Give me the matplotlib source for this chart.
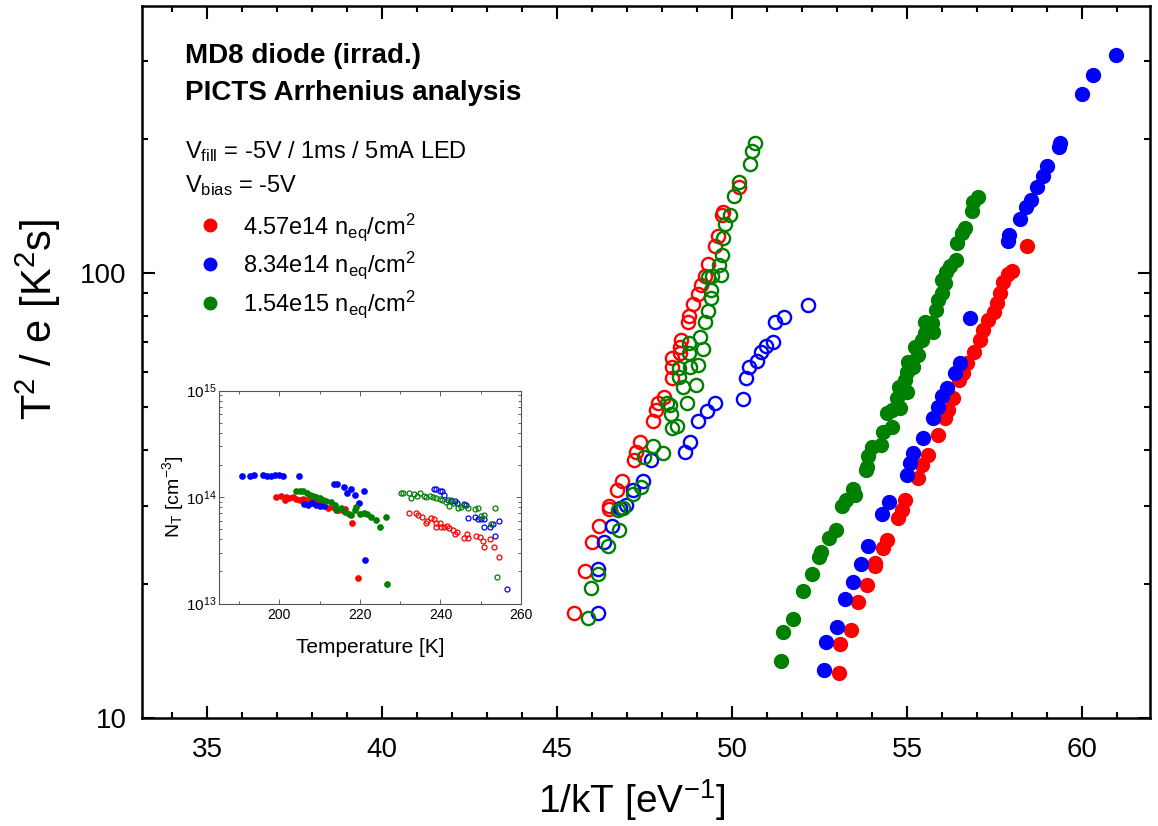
import matplotlib.pyplot as plt
from matplotlib.lines import Line2D
from matplotlib.ticker import FixedLocator, LogLocator, MultipleLocator, NullFormatter, FuncFormatter

plt.rcParams['font.family'] = ['Liberation Sans', 'DejaVu Sans']
plt.rcParams['mathtext.fontset'] = 'custom'
plt.rcParams['mathtext.rm'] = 'Liberation Sans'
plt.rcParams['mathtext.it'] = 'Liberation Sans:italic'
plt.rcParams['mathtext.bf'] = 'Liberation Sans:bold'
plt.rcParams['mathtext.default'] = 'regular'

# ---- main plot: Arrhenius data, 1/kT [1/eV] vs T^2/e [K^2 s]
# open symbols (high-T peak)
red_open_x = [45.47, 45.80, 45.99, 46.20, 46.47, 46.47, 46.71, 46.85, 47.20, 47.26, 47.37, 47.73, 47.82,
              47.89, 48.06, 48.28, 48.28, 48.28, 48.51, 48.51, 48.53, 48.75, 48.78, 48.87, 49.04, 49.11,
              49.23, 49.32, 49.51, 49.59, 49.71, 49.75, 50.21]
red_open_y = [17.2, 21.4, 24.8, 27.0, 29.9, 29.5, 32.5, 34.0, 37.9, 39.5, 41.6, 46.5, 49.2,
              51.0, 52.7, 58.0, 61.6, 64.5, 66.2, 68.3, 70.7, 77.5, 80.1, 85.1, 89.6, 94.0,
              98.6, 105, 115, 121, 135, 137, 156]
blue_open_x = [46.18, 46.16, 46.35, 46.56, 46.80, 46.97, 47.18, 47.45, 47.69, 48.66, 48.80, 49.04,
               49.28, 49.51, 50.32, 50.39, 50.49, 50.71, 50.82, 50.97, 51.18, 51.23, 51.49, 52.18]
blue_open_y = [17.2, 21.6, 24.9, 27.0, 29.6, 30.1, 32.5, 34.1, 38.0, 39.5, 41.6, 46.6,
               49.0, 51.1, 52.1, 58.0, 61.6, 63.5, 66.5, 68.5, 70.1, 77.5, 79.5, 84.7]
green_open_x = [45.89, 45.97, 46.18, 46.45, 46.77, 46.75, 46.89, 47.18, 47.40, 47.49, 47.75, 48.04,
                48.13, 48.23, 48.26, 48.28, 48.42, 48.47, 48.49, 48.59, 48.71, 48.78, 48.78, 48.80,
                48.97, 49.04, 49.07, 49.16, 49.23, 49.32, 49.39, 49.40, 49.32, 49.42, 49.69, 49.63,
                49.71, 49.75, 49.80, 49.94, 50.06, 50.20, 50.51, 50.58, 50.66]
green_open_y = [16.8, 19.6, 21.1, 24.3, 26.5, 29.3, 29.6, 31.8, 33.0, 38.5, 40.9, 39.3,
                51.1, 50.5, 48.2, 44.8, 45.3, 61.1, 58.5, 55.3, 51.1, 69.5, 66.0, 61.4,
                56.0, 62.1, 71.9, 67.4, 77.7, 82.1, 88.0, 91.6, 98.1, 98.5, 99.0, 104.2,
                109.8, 120, 129, 135, 149, 160, 176, 188, 196]

# filled symbols (low-T peak)
red_fill_x = [53.06, 53.09, 53.39, 53.61, 53.85, 54.09, 54.09, 54.31, 54.44, 54.75, 54.85, 54.94,
              55.32, 55.42, 55.61, 55.89, 56.09, 56.18, 56.32, 56.47, 56.61, 56.71, 56.91, 57.09,
              57.18, 57.32, 57.47, 57.56, 57.66, 57.75, 57.89, 58.01, 58.42]
red_fill_y = [12.6, 14.7, 15.8, 18.2, 19.9, 22.0, 22.3, 24.1, 25.1, 28.2, 29.3, 30.9,
              34.7, 37.0, 39.0, 43.3, 47.2, 49.2, 52.3, 57.5, 59.5, 62.7, 66.5, 70.7,
              74.5, 78.4, 81.8, 85.5, 90.0, 95.5, 99.3, 101, 115]
blue_fill_x = [52.63, 52.69, 52.99, 53.23, 53.45, 53.68, 53.89, 54.29, 54.49, 54.99, 55.07, 55.18,
               55.45, 55.75, 55.89, 55.99, 56.15, 56.37, 56.51, 56.80, 57.88, 57.92, 58.23, 58.39,
               58.53, 58.72, 58.89, 59.01, 59.34, 59.37, 60.01, 60.32, 60.96]
blue_fill_y = [12.8, 14.8, 16.0, 18.5, 20.2, 22.2, 24.4, 28.7, 30.5, 35.2, 37.4, 39.3,
               42.5, 47.2, 50.1, 52.9, 55.1, 59.5, 62.9, 79.1, 118, 122, 132, 141,
               146, 156, 165, 174, 192, 196, 252, 278, 309]
green_fill_x = [51.39, 51.45, 51.75, 52.02, 52.28, 52.49, 52.53, 52.78, 52.97, 53.13, 53.26, 53.45,
                53.51, 53.83, 53.85, 53.89, 53.99, 54.25, 54.32, 54.56, 54.42, 54.56, 54.80, 54.71,
                54.99, 54.78, 54.94, 54.99, 55.18, 55.04, 55.32, 55.23, 55.42, 55.51, 55.75, 55.71,
                55.51, 55.83, 55.89, 55.99, 56.09, 55.99, 56.11, 56.23, 56.40, 56.44, 56.56, 56.66,
                56.85, 56.89, 57.04]
green_fill_y = [13.4, 15.6, 16.7, 19.3, 21.1, 23.0, 23.6, 25.4, 26.5, 29.9, 30.9, 32.7,
                31.7, 36.1, 36.7, 38.7, 40.7, 41.1, 44.0, 45.1, 48.4, 49.2, 49.7, 52.3,
                54.1, 55.5, 57.5, 60.0, 61.6, 63.2, 65.4, 68.3, 70.7, 73.2, 73.8, 77.1,
                77.7, 82.6, 87.0, 90.0, 94.8, 96.4, 100.7, 103.7, 106.9, 117, 122.8, 126,
                138, 144.6, 148]

# ---- inset: trap concentration N_T vs temperature
in_red_fill_T = [199.1, 200.5, 201.3, 201.7, 202.5, 203.4, 204.2, 205.0, 205.8, 206.7, 207.5,
                 208.7, 209.6, 210.8, 212.0, 213.3, 214.5, 215.5, 216.2, 218.0, 219.5]
in_red_fill_N = [1.0e14, 1.03e14, 9.4e13, 1.0e14, 9.75e13, 1.0e14, 9.55e13, 9.4e13, 9.55e13, 9.4e13, 9.2e13,
                 9.08e13, 8.88e13, 8.75e13, 7.85e13, 8.13e13, 7.57e13, 7.57e13, 7.68e13, 5.66e13, 1.72e13]
in_blue_fill_T = [190.7, 192.8, 193.7, 195.9, 197.0, 198.0, 199.0, 199.9, 200.9, 204.8, 206.0, 207.0,
                  208.0, 209.0, 210.0, 211.0, 213.5, 214.3, 216.0, 216.8, 217.8, 218.7, 219.7, 220.9, 221.2]
in_blue_fill_N = [1.56e14, 1.56e14, 1.62e14, 1.62e14, 1.56e14, 1.59e14, 1.62e14, 1.62e14, 1.58e14, 1.56e14,
                  8.6e13, 8.4e13, 8.7e13, 8.5e13, 8.3e13, 8.2e13, 1.33e14, 1.32e14, 1.24e14, 1.09e14,
                  1.19e14, 1.05e14, 8.75e13, 1.14e14, 2.58e13]
in_green_fill_T = [204.2, 205.0, 205.8, 206.9, 207.5, 208.3, 209.1, 210.0, 210.8, 211.6, 212.9, 213.7,
                   214.1, 215.2, 216.2, 217.4, 217.8, 218.7, 219.1, 219.9, 220.9, 221.7, 222.8, 224.0,
                   225.0, 226.5, 226.7]
in_green_fill_N = [1.13e14, 1.15e14, 1.13e14, 1.09e14, 1.05e14, 1.03e14, 9.96e13, 9.75e13, 9.4e13, 9.08e13,
                   8.88e13, 8.44e13, 7.57e13, 7.85e13, 7.3e13, 6.93e13, 6.79e13, 7.57e13, 8.02e13, 6.93e13,
                   7.05e13, 6.93e13, 6.55e13, 6.1e13, 5.2e13, 6.55e13, 1.52e13]
in_red_open_T = [232.1, 234.0, 234.4, 235.4, 236.4, 236.7, 237.7, 238.3, 238.9, 238.9, 239.8, 240.2,
                 240.8, 241.6, 242.2, 243.0, 243.5, 244.1, 245.9, 246.6, 246.9, 248.8, 249.7, 250.5,
                 250.7, 252.4, 253.4, 254.6]
in_red_open_N = [7.15e13, 7.15e13, 6.79e13, 6.46e13, 5.66e13, 6.0e13, 6.32e13, 6.18e13, 5.66e13, 5.2e13,
                 5.66e13, 5.27e13, 5.2e13, 5.35e13, 5.09e13, 4.91e13, 4.5e13, 4.73e13, 4.09e13, 4.5e13,
                 4.09e13, 4.31e13, 4.19e13, 3.89e13, 3.42e13, 4.01e13, 3.42e13, 2.71e13]
in_blue_open_T = [238.3, 238.9, 239.8, 240.3, 241.0, 241.8, 242.6, 243.6, 244.1, 245.9, 246.4, 246.9,
                  248.6, 249.2, 250.1, 250.7, 250.9, 252.4, 253.0, 253.6, 254.6, 256.5]
in_blue_open_N = [1.19e14, 1.19e14, 1.13e14, 1.13e14, 1.05e14, 9.4e13, 9.27e13, 9.08e13, 8.75e13, 8.63e13,
                  8.44e13, 6.32e13, 6.46e13, 6.18e13, 6.18e13, 5.2e13, 6.18e13, 5.2e13, 5.58e13, 4.31e13,
                  6.01e13, 1.36e13]
in_green_open_T = [230.1, 230.6, 232.1, 232.7, 233.5, 234.2, 235.0, 235.9, 236.4, 237.3, 238.1, 238.9,
                   239.8, 240.3, 241.4, 242.2, 242.6, 243.3, 244.3, 245.1, 245.9, 246.9, 248.6, 249.2,
                   250.1, 250.9, 252.6, 253.6, 254.1]
in_green_open_N = [1.09e14, 1.1e14, 1.09e14, 9.75e13, 1.07e14, 1.03e14, 1.09e14, 1.03e14, 1.01e14, 1.03e14,
                   9.96e13, 9.75e13, 9.55e13, 9.4e13, 8.88e13, 8.26e13, 9.4e13, 8.75e13, 7.85e13, 8.13e13,
                   8.43e13, 7.85e13, 7.68e13, 7.8e13, 6.64e13, 6.79e13, 5.58e13, 7.85e13, 1.78e13]

colors = ['#ff0000', '#0000ff', '#008000']
labels = ['4.57e14 n$_{eq}$/cm$^{2}$', '8.34e14 n$_{eq}$/cm$^{2}$', '1.54e15 n$_{eq}$/cm$^{2}$']

W, H = 1158, 826
fig = plt.figure(figsize=(W / 100, H / 100), dpi=100)
ax = fig.add_axes([142 / W, 1 - 718 / H, (1150 - 142) / W, 712 / H])

open_sets = [(red_open_x, red_open_y), (blue_open_x, blue_open_y), (green_open_x, green_open_y)]
fill_sets = [(red_fill_x, red_fill_y), (blue_fill_x, blue_fill_y), (green_fill_x, green_fill_y)]
for (x, y), c in zip(open_sets, colors):
    ax.plot(x, y, 'o', ls='none', ms=9.5, mfc='none', mec=c, mew=1.7)
for (x, y), c in zip(fill_sets, colors):
    ax.plot(x, y, 'o', ls='none', ms=10, color=c)

ax.set_yscale('log')
ax.set_xlim(33.14, 61.94)
ax.set_ylim(10, 398)
ax.xaxis.set_major_locator(MultipleLocator(5))
ax.xaxis.set_minor_locator(MultipleLocator(1))
ax.yaxis.set_major_locator(FixedLocator([10, 100]))
ax.yaxis.set_major_formatter(FuncFormatter(lambda v, p: '%d' % v))
ax.yaxis.set_minor_locator(LogLocator(base=10, subs=range(2, 10)))
ax.yaxis.set_minor_formatter(NullFormatter())
ax.tick_params(which='both', direction='in', top=True, right=True, width=1.5, labelsize=20)
ax.tick_params(which='major', length=9)
ax.tick_params(which='minor', length=4.5)
ax.tick_params(axis='x', pad=14)
ax.tick_params(axis='y', pad=11)
for s in ax.spines.values():
    s.set_linewidth(1.8)

ax.set_xlabel('1/kT [eV$^{-1}$]', fontsize=28, labelpad=10)
ax.xaxis.label.set_x(0.486)
ax.set_ylabel('T$^{2}$ / e [K$^{2}$s]', fontsize=30)
ax.yaxis.set_label_coords(-0.078, 0.56)

tr = ax.transAxes
ax.text(0.043, 0.9195, 'MD8 diode (irrad.)', transform=tr, fontsize=20, fontweight='bold', va='baseline')
ax.text(0.043, 0.868, 'PICTS Arrhenius analysis', transform=tr, fontsize=20, fontweight='bold',
        va='baseline')
ax.text(0.043, 0.787, 'V$_{fill}$ = -5V / 1ms / 5mA LED', transform=tr, fontsize=17, va='baseline')
ax.text(0.043, 0.738, 'V$_{bias}$ = -5V', transform=tr, fontsize=17, va='baseline')

handles = [Line2D([], [], ls='none', marker='o', ms=9, color=c) for c in colors]
ax.legend(handles, labels, loc='upper left', bbox_to_anchor=(0.056, 0.712), frameon=False, fontsize=17,
          handlelength=1.0, handletextpad=0.9, borderpad=0, borderaxespad=0, labelspacing=0.3)

# ---- inset
ax2 = fig.add_axes([219 / W, 1 - 603.5 / H, (521 - 219) / W, (603.5 - 390.5) / H])
ax2.set_yscale('log')
in_fill = [(in_red_fill_T, in_red_fill_N), (in_blue_fill_T, in_blue_fill_N), (in_green_fill_T, in_green_fill_N)]
in_open = [(in_red_open_T, in_red_open_N), (in_blue_open_T, in_blue_open_N), (in_green_open_T, in_green_open_N)]
for (x, y), c in zip(in_fill, colors):
    ax2.plot(x, y, 'o', ls='none', ms=3.8, color=c)
for (x, y), c in zip(in_open, colors):
    ax2.plot(x, y, 'o', ls='none', ms=3.6, mfc='none', mec=c, mew=0.9)
ax2.set_xlim(185, 260)
ax2.set_ylim(1e13, 1e15)
ax2.xaxis.set_major_locator(MultipleLocator(20))
ax2.xaxis.set_minor_locator(MultipleLocator(10))
ax2.yaxis.set_minor_locator(LogLocator(base=10, subs=range(2, 10)))
ax2.yaxis.set_minor_formatter(NullFormatter())
ax2.tick_params(which='both', direction='in', top=True, right=True, width=0.6, colors='#444444',
                labelcolor='black')
ax2.tick_params(which='major', length=3.5)
ax2.tick_params(which='minor', length=2)
ax2.tick_params(axis='x', labelsize=10, pad=3)
ax2.tick_params(axis='y', labelsize=11, pad=2)
for s in ax2.spines.values():
    s.set_linewidth(0.8)
    s.set_color('#555555')
ax2.set_xlabel('Temperature [K]', fontsize=15, labelpad=12)
ax2.set_ylabel('N$_{T}$ [cm$^{-3}$]', fontsize=14, labelpad=0)

fig.savefig('out.png', dpi=100)
